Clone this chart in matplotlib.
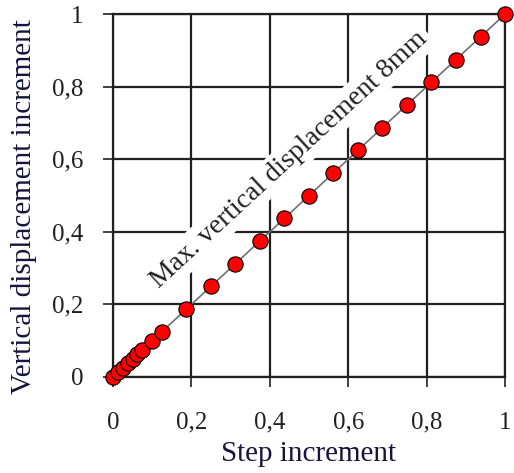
import matplotlib
matplotlib.use("Agg")
import matplotlib.pyplot as plt

# step increment vs. vertical displacement increment
step = [0, 0.0125, 0.025, 0.0375, 0.05, 0.0625, 0.075, 0.1, 0.125, 0.1875,
        0.25, 0.3125, 0.375, 0.4375, 0.5, 0.5625, 0.625, 0.6875, 0.75,
        0.8125, 0.875, 0.9375, 1.0]
disp = [0, 0.0125, 0.025, 0.0375, 0.05, 0.0625, 0.075, 0.1, 0.125, 0.1875,
        0.25, 0.3125, 0.375, 0.4375, 0.5, 0.5625, 0.625, 0.6875, 0.75,
        0.8125, 0.875, 0.9375, 1.0]
ticks = [0, 0.2, 0.4, 0.6, 0.8, 1.0]
tick_labels = ["0", "0,2", "0,4", "0,6", "0,8", "1"]
note = "Max. vertical displacement 8mm"

plt.rcParams["font.family"] = ["Liberation Serif", "DejaVu Serif"]

fig = plt.figure(figsize=(5.14, 4.73), dpi=100)
ax = fig.add_axes([0.2198, 0.203, 0.7627, 0.767])

ax.plot(step, disp, color="#707070", lw=1.2, zorder=4,
        marker="o", markersize=11, markerfacecolor="#ff0000",
        markeredgecolor="black", markeredgewidth=0.8, clip_on=False)

ax.set_xlim(0, 1)
ax.set_ylim(0, 1)
ax.set_xticks(ticks)
ax.set_yticks(ticks)
ax.set_xticklabels(tick_labels)
ax.set_yticklabels(tick_labels)
ax.tick_params(direction="out", length=7, width=1.2, labelsize=18,
               colors="#202020")
ax.tick_params(axis="x", pad=18)
ax.tick_params(axis="y", pad=14)
ax.grid(True, color="#202020", lw=1.6, zorder=1)
ax.set_axisbelow(True)
for s in ax.spines.values():
    s.set_color("#202020")
    s.set_linewidth(1.6)

ax.set_xlabel("Step increment", fontsize=21, color="#14143c", labelpad=5)
ax.set_ylabel("Vertical displacement increment", fontsize=21,
              color="#14143c", labelpad=3)
ax.yaxis.set_label_coords(-0.193, 0.47)

ax.text(0.45, 0.60, note, fontsize=20, rotation=42.7, ha="center",
        va="center", rotation_mode="anchor", color="#202020", zorder=3,
        bbox=dict(facecolor="white", edgecolor="none", pad=3))

fig.savefig("out.png", dpi=100)
